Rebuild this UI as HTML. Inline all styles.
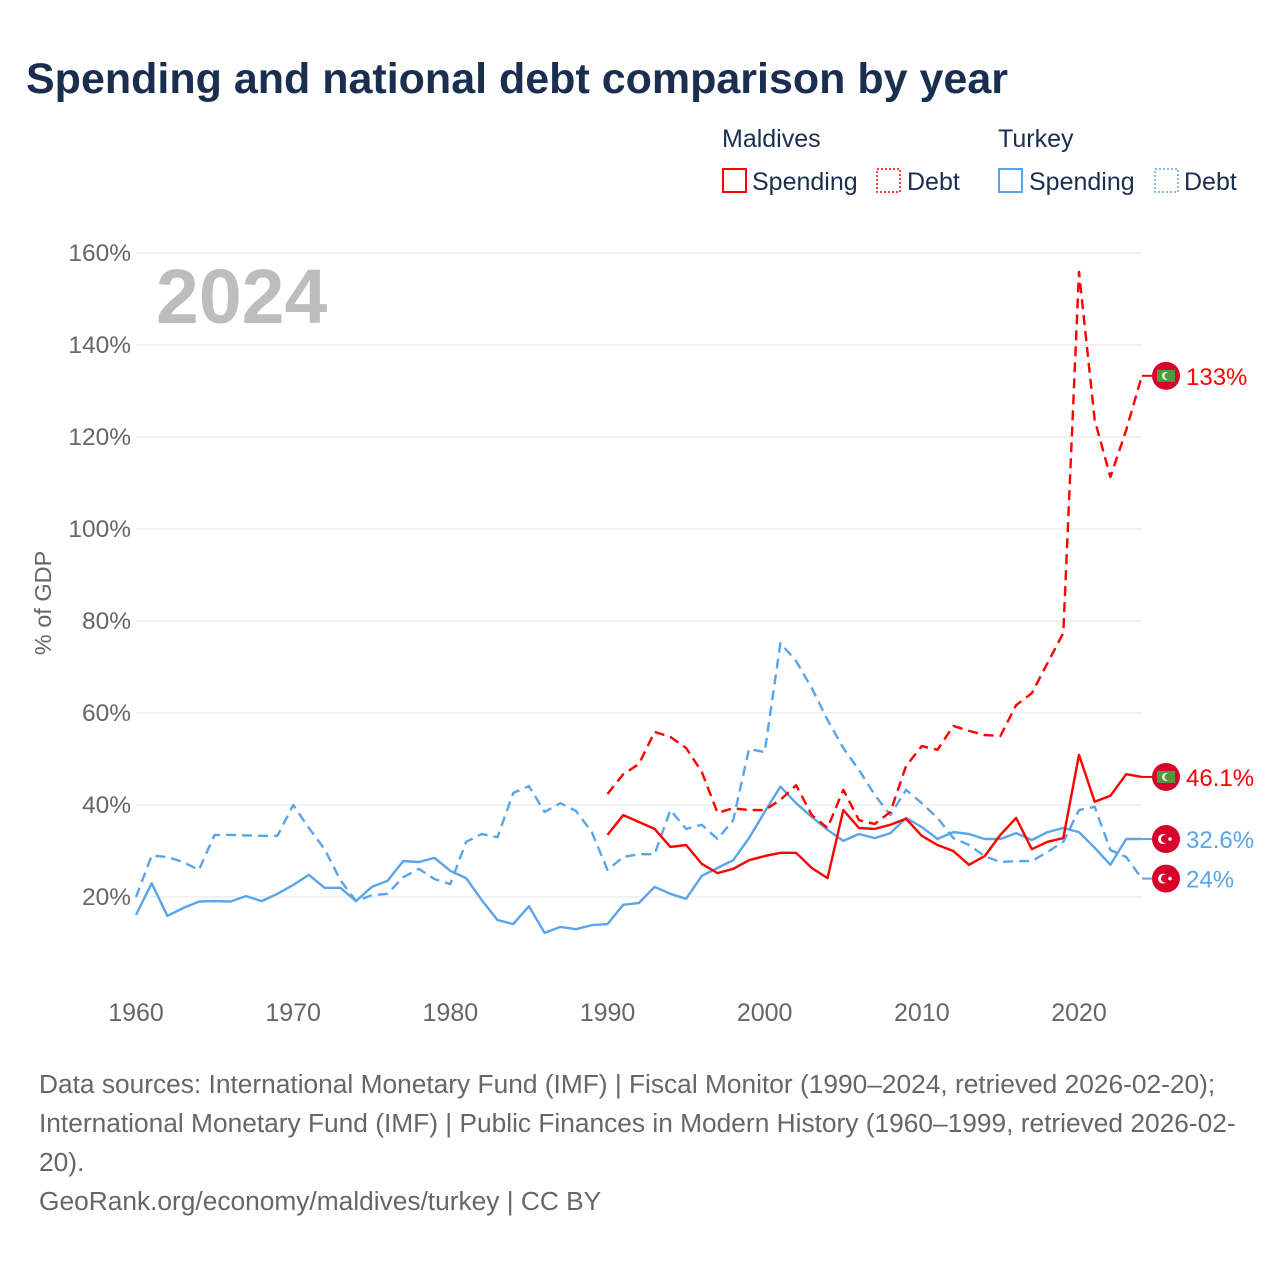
<!DOCTYPE html>
<html><head><meta charset="utf-8"><style>
body{margin:0;background:#fff;font-family:"Liberation Sans",sans-serif;}
#wrap{position:relative;width:1280px;height:1280px;overflow:hidden;}
</style></head><body><div id="wrap">
<svg id="chart" width="1280" height="1280" xmlns="http://www.w3.org/2000/svg">
<text x="26" y="93" font-size="43" font-weight="bold" fill="#1a2e4f">Spending and national debt comparison by year</text>
<g font-size="25" fill="#1a2e4f">
<text x="722" y="147">Maldives</text>
<text x="998" y="147">Turkey</text>
<rect x="723" y="169" width="23" height="23" fill="none" stroke="#f00" stroke-width="2"/>
<text x="752" y="190">Spending</text>
<rect x="877" y="169" width="23" height="23" fill="none" stroke="#f00" stroke-width="1.5" stroke-dasharray="2 2"/>
<text x="907" y="190">Debt</text>
<rect x="999" y="169" width="23" height="23" fill="none" stroke="#5aa5ea" stroke-width="2"/>
<text x="1029" y="190">Spending</text>
<rect x="1155" y="169" width="23" height="23" fill="none" stroke="#5aa5ea" stroke-width="1.5" stroke-dasharray="2 2"/>
<text x="1184" y="190">Debt</text>
</g>
<text x="156" y="323" font-size="77" font-weight="bold" fill="#bdbdbd">2024</text>
<text transform="translate(51,603) rotate(-90)" text-anchor="middle" font-size="23.5" fill="#666">% of GDP</text>
<g id="grid"></g><g id="series"></g><g id="labels"></g>
<g font-size="26.3" fill="#666">
<text x="39" y="1093">Data sources: International Monetary Fund (IMF) | Fiscal Monitor (1990–2024, retrieved 2026-02-20);</text>
<text x="39" y="1132">International Monetary Fund (IMF) | Public Finances in Modern History (1960–1999, retrieved 2026-02-</text>
<text x="39" y="1171">20).</text>
<text x="39" y="1210">GeoRank.org/economy/maldives/turkey | CC BY</text>
</g>
</svg>
<script>
const yTicks=[20,40,60,80,100,120,140,160];
const xTicks=[1960,1970,1980,1990,2000,2010,2020];
const turYears0=1960;
const turSpending=[16.1,23,15.9,17.6,19,19.1,19,20.2,19.1,20.7,22.6,24.8,22,22,19.1,22.2,23.5,27.8,27.6,28.5,25.7,24.1,19.3,15,14.1,18,12.2,13.5,13,13.9,14.1,18.3,18.7,22.2,20.7,19.6,24.6,26.3,28,32.8,38.5,44,40.4,37.4,34.6,32.2,33.7,32.8,33.9,37.2,35.2,32.6,34.1,33.7,32.6,32.6,33.9,32.4,34.1,35,34.1,30.7,27,32.6,32.6];
const turDebt=[20,29,28.7,27.6,25.9,33.5,33.5,33.4,33.3,33.3,40,35,30.4,23.7,19.1,20.4,20.7,24.3,26.1,23.9,22.8,32,33.7,33,42.6,44.1,38.5,40.4,38.7,34.1,25.9,28.7,29.3,29.3,38.9,34.8,35.7,32.6,36.7,52.2,51.5,75.2,71.3,65.4,58.5,52.4,47.6,42.2,37.8,43.3,40.4,37.2,32.8,31.3,28.9,27.6,27.8,27.8,29.8,32,38.9,39.6,30.2,28.7,24];
const malYears0=1990;
const malSpending=[33.5,37.8,36.3,34.8,30.9,31.3,27.2,25.2,26.1,28,28.9,29.6,29.6,26.3,24.1,38.9,35,34.8,35.7,37,33.3,31.3,30,27,28.9,33.5,37.2,30.4,32,32.8,50.9,40.7,42,46.7,46.1];
const malDebt=[42.4,46.7,48.9,55.9,54.8,52.4,47.2,38.3,39.3,38.9,38.9,41.1,44.3,37.8,35,43.3,36.7,35.9,38.5,48.5,52.8,52,57.2,56.1,55.2,55,61.7,64.3,70.9,77.4,155.9,123.7,111.3,121.5,133.3];
const endLabels=['133%','46.1%','32.6%','24%'];
const NS='http://www.w3.org/2000/svg';
const xs=y=>136+(y-1960)*(943/60);
const ys=v=>989-v*4.6;
function mk(t,a,p){const e=document.createElementNS(NS,t);for(const k in a)e.setAttribute(k,a[k]);p.appendChild(e);return e;}
const grid=document.getElementById('grid');
yTicks.forEach(v=>{
 const l=mk('line',{x1:136,x2:1142,y1:ys(v),y2:ys(v),stroke:'#e3e3e3','stroke-width':1},grid);
 
 
 const t=mk('text',{x:131,y:ys(v)+8,'text-anchor':'end','font-size':24.5,fill:'#666'},grid);
 t.textContent=v+'%';
 
 
});
xTicks.forEach(y=>{
 const t=mk('text',{x:xs(y),y:1021,'text-anchor':'middle','font-size':25,fill:'#666'},grid);
 t.textContent=y;
 
 
});
const ser=document.getElementById('series');
function line(vals,y0,color,dash,name){
 const d=vals.map((v,i)=>(i?'L':'M')+xs(y0+i).toFixed(1)+','+ys(v).toFixed(1)).join('');
 const p=mk('path',{d:d,fill:'none',stroke:color,'stroke-width':2.4,'stroke-linejoin':'round'},ser);
 if(dash)p.setAttribute('stroke-dasharray','10 6');
 
 
}
line(turDebt,turYears0,'#5aa5ea',true,'turkey-debt-line');
line(turSpending,turYears0,'#5aa5ea',false,'turkey-spending-line');
line(malDebt,malYears0,'#ff0000',true,'maldives-debt-line');
line(malSpending,malYears0,'#ff0000',false,'maldives-spending-line');
const lab=document.getElementById('labels');
const ends=[[malDebt[malDebt.length-1],'#ff0000','mv'],[malSpending[malSpending.length-1],'#ff0000','mv'],[turSpending[turSpending.length-1],'#5aa5ea','tr'],[turDebt[turDebt.length-1],'#5aa5ea','tr']];
const names=['maldives-debt-end-label','maldives-spending-end-label','turkey-spending-end-label','turkey-debt-end-label'];
ends.forEach((e,i)=>{
 const y=ys(e[0]);
 const g=mk('g',{},lab);
 
 
 mk('line',{x1:1142,x2:1152,y1:y,y2:y,stroke:e[1],'stroke-width':2},g);
 mk('circle',{cx:1166,cy:y,r:14,fill:'#d8002a'},g);
 if(e[2]==='mv'){mk('rect',{x:1157,y:y-6,width:18,height:12,fill:'#4c9b3c'},g);mk('circle',{cx:1166,cy:y,r:4,fill:'#eee'},g);mk('circle',{cx:1168,cy:y,r:3.5,fill:'#4c9b3c'},g);}
 else{mk('circle',{cx:1163,cy:y,r:5,fill:'#fff'},g);mk('circle',{cx:1165,cy:y,r:4,fill:'#d8002a'},g);mk('circle',{cx:1170,cy:y,r:1.8,fill:'#fff'},g);}
 const t=mk('text',{x:1186,y:y+9,'font-size':24,fill:e[1]},g);
 t.textContent=endLabels[i];
});
</script>
</div></body></html>
